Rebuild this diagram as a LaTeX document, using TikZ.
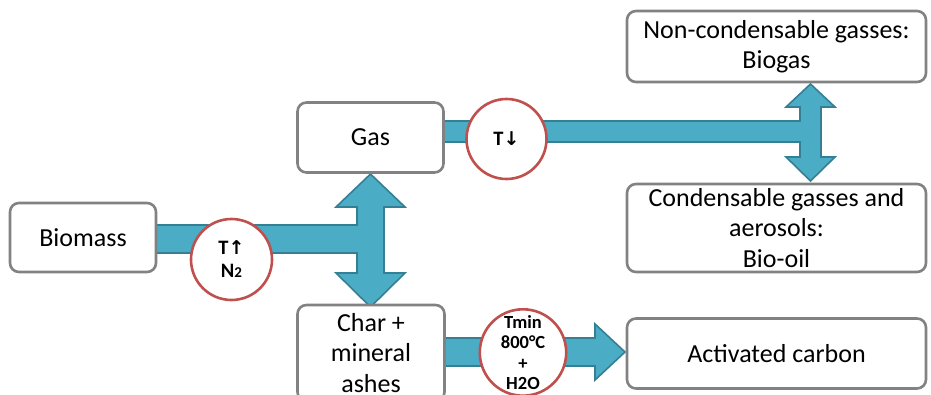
\documentclass[tikz,border=0pt]{standalone}
\usepackage{fontspec}
\setmainfont{Carlito}
\newfontfamily\arrowfont{DejaVu Sans}
\definecolor{tealfill}{HTML}{4BACC6}
\definecolor{tealline}{HTML}{357F94}
\definecolor{boxgray}{HTML}{828282}
\definecolor{circred}{HTML}{C0504D}
\begin{document}
\begin{tikzpicture}[x=1pt,y=-1pt,
  box/.style={draw=boxgray, line width=2.6pt, rounded corners=9pt, fill=white,
    align=center, inner sep=0pt, font=\fontsize{26}{30.5}\selectfont},
  circ/.style={circle, draw=circred, line width=2.6pt, fill=white, inner sep=0pt,
    align=center, font=\bfseries\fontsize{20.5}{23}\selectfont},
  blockarrow/.style={fill=tealfill, draw=tealline, line width=1.6pt, line join=miter}]
\useasboundingbox (0,0) rectangle (931,395);
\clip (0,0) rectangle (931,395);
% block arrows
\draw[blockarrow] (150,225) -- (357,225) -- (357,207) -- (336,207) -- (370.5,174)
  -- (405,207) -- (384,207) -- (384,273) -- (405,273) -- (370.5,307) -- (336,273)
  -- (357,273) -- (357,253) -- (150,253) -- cycle;
\draw[blockarrow] (440,121) -- (800,121) -- (800,107) -- (786,107) -- (810.5,84)
  -- (835,107) -- (821,107) -- (821,157) -- (835,157) -- (810.5,181) -- (786,157)
  -- (800,157) -- (800,142) -- (440,142) -- cycle;
\draw[blockarrow] (440,338) -- (595,338) -- (595,324) -- (625,352) -- (595,380)
  -- (595,366) -- (440,366) -- cycle;
% boxes
\node[box, minimum width=146pt, minimum height=69pt] (bio) at (83,237.5) {Biomass};
\node[box, minimum width=146pt, minimum height=70pt] (gas) at (370.5,137.5) {Gas};
\node[box, minimum width=147pt, minimum height=96pt] (char) at (371,353) {Char +\\mineral\\ashes};
\node[box, minimum width=299pt, minimum height=71pt] (noncond) at (776.5,46.5) {Non-condensable gasses:\\Biogas};
\node[box, minimum width=299pt, minimum height=88pt] (cond) at (776.5,228) {Condensable gasses and\\aerosols:\\Bio-oil};
\node[box, minimum width=299pt, minimum height=70pt] (act) at (776.5,353.5) {Activated carbon};
% circles
\node[circ, minimum size=81pt] (c1) at (231.5,259.5) {T{\arrowfont\bfseries\fontsize{19}{23}\selectfont ↑}\\N{\fontsize{15}{23}\selectfont 2}};
\node[circ, minimum size=80pt] (c2) at (506.5,139) {T{\arrowfont\bfseries\fontsize{19}{23}\selectfont ↓}};
\node[circ, minimum size=86pt, font=\bfseries\fontsize{18.5}{20.5}\selectfont] (c3) at (523,352.5) {Tmin\\800°C\\+\\H2O};
\end{tikzpicture}
\end{document}
